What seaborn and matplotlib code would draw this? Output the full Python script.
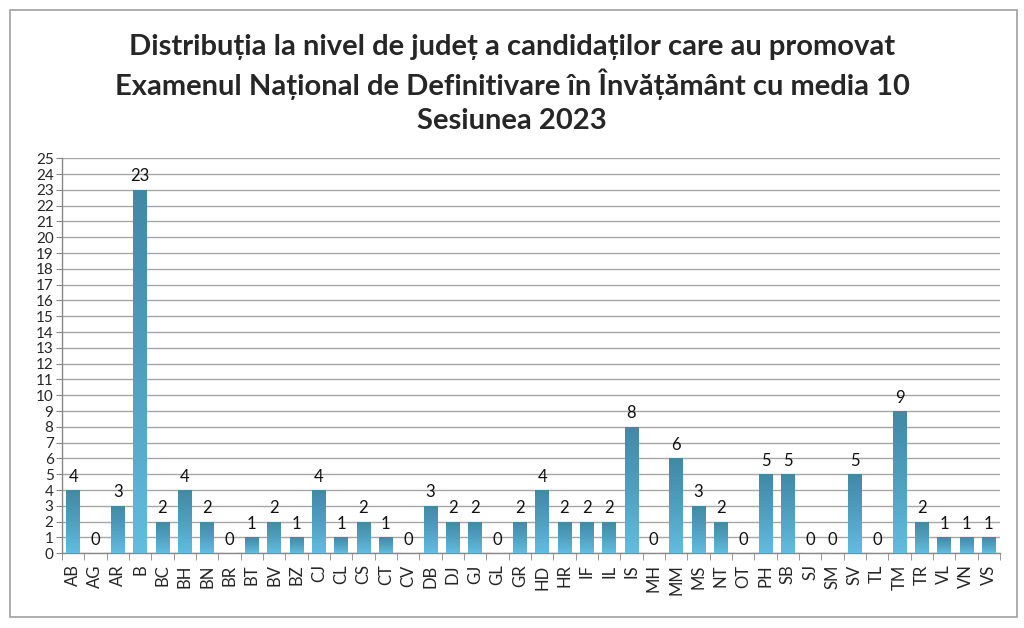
import numpy as np
import pandas as pd
import matplotlib
matplotlib.use("Agg")
import matplotlib.pyplot as plt
import seaborn as sns
from matplotlib.colors import LinearSegmentedColormap
from matplotlib.patches import Rectangle

# data
judete = ["AB", "AG", "AR", "B", "BC", "BH", "BN", "BR", "BT", "BV", "BZ", "CJ", "CL", "CS",
          "CT", "CV", "DB", "DJ", "GJ", "GL", "GR", "HD", "HR", "IF", "IL", "IS", "MH", "MM",
          "MS", "NT", "OT", "PH", "SB", "SJ", "SM", "SV", "TL", "TM", "TR", "VL", "VN", "VS"]
candidati = [4, 0, 3, 23, 2, 4, 2, 0, 1, 2, 1, 4, 1, 2,
             1, 0, 3, 2, 2, 0, 2, 4, 2, 2, 2, 8, 0, 6,
             3, 2, 0, 5, 5, 0, 0, 5, 0, 9, 2, 1, 1, 1]

TITLE_LINES = ["Distribuția la nivel de județ a candidaților care au promovat",
               "Examenul Național de Definitivare în Învățământ cu media 10",
               "Sesiunea 2023"]

df = pd.DataFrame({"judet": judete, "n": candidati})

sns.set_style("white")
plt.rcParams["font.family"] = ["Lato", "DejaVu Sans"]

fig = plt.figure(figsize=(10.24, 6.28), dpi=100)
ax = fig.add_axes([0.0605, 0.119, 0.916, 0.629])

sns.barplot(data=df, x="judet", y="n", color="#4a9fc0", width=0.62, ax=ax, zorder=3)

# vertical gradient inside each bar (Excel-like fill)
cmap = LinearSegmentedColormap.from_list("g", ["#62bde0", "#509fbf", "#4288a6"])
grad = np.linspace(0, 1, 256).reshape(-1, 1)
for p in ax.patches:
    h = p.get_height()
    if h <= 0:
        continue
    x0 = p.get_x()
    im = ax.imshow(grad, cmap=cmap, aspect="auto", origin="lower",
                   extent=(x0, x0 + p.get_width(), 0, h), zorder=4)
    im.set_clip_path(p)
    p.set_edgecolor("none")

for i, v in enumerate(candidati):
    ax.text(i, v + 0.35, str(v), ha="center", va="bottom", fontsize=12, color="#111111", zorder=5)

ax.set_xlim(-0.5, len(judete) - 0.5)
ax.set_ylim(0, 25)
ax.set_yticks(range(0, 26))
ax.yaxis.grid(True, color="#a6a6a6", linewidth=1, zorder=0)
ax.set_axisbelow(True)
ax.set_xlabel("")
ax.set_ylabel("")
ax.tick_params(axis="y", labelsize=11, length=4, color="#888888", left=True, pad=2)
ax.tick_params(axis="x", labelsize=12, rotation=90, length=0, pad=8)
ax.set_xticks(np.arange(-0.5, len(judete), 1), minor=True)
ax.tick_params(axis="x", which="minor", length=5, color="#888888", bottom=True)

for s in ["top", "right"]:
    ax.spines[s].set_visible(False)
for s in ["left", "bottom"]:
    ax.spines[s].set_color("#888888")
    ax.spines[s].set_linewidth(1)

for k, line in enumerate(TITLE_LINES):
    fig.text(0.5, 1 - (47 + 37 * k) / 628, line, ha="center", va="center",
             fontsize=21, fontweight="bold")

fig.patches.append(Rectangle((0.0098, 0.0175), 0.983, 0.966, transform=fig.transFigure,
                             fill=False, edgecolor="#a0a0a0", linewidth=1.2))

fig.savefig("out.png", dpi=100)
